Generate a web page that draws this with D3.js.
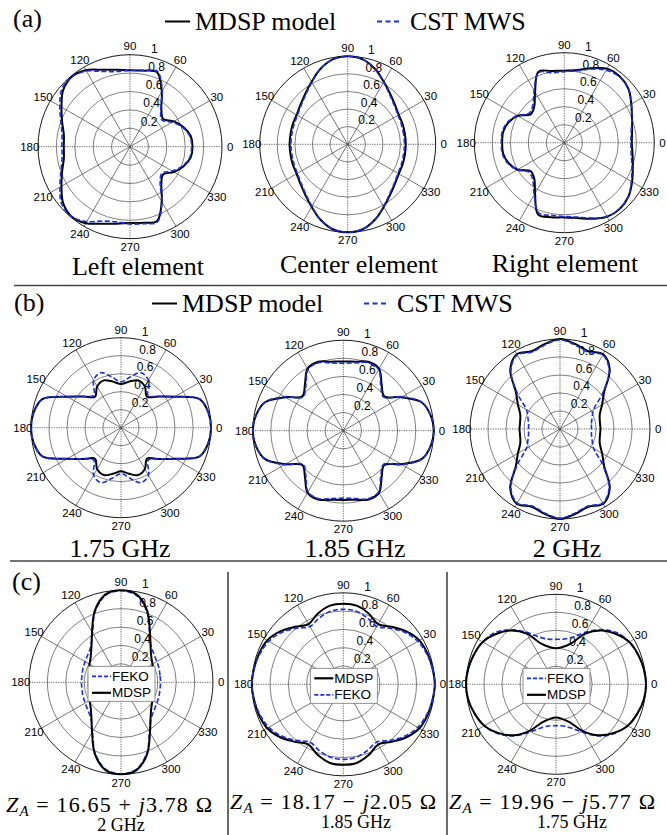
<!DOCTYPE html>
<html>
<head>
<meta charset="utf-8">
<script src="https://cdn.jsdelivr.net/npm/d3@7"></script>
<style>
  body { margin: 0; background: #fff; }
  svg { display: block; }
</style>
</head>
<body>
<svg id="fig" width="667" height="835"></svg>
<script>
const angleDeg = [0, 10, 20, 30, 40, 50, 60, 70, 80, 90, 100, 110, 120, 130, 140, 150, 160, 170,
                  180, 190, 200, 210, 220, 230, 240, 250, 260, 270, 280, 290, 300, 310, 320, 330, 340, 350];

// Grid
const gridRings = [0.2, 0.4, 0.6, 0.8, 1];
const ringLabels = ["0.2", "0.4", "0.6", "0.8", "1"];
const spokeAngles = [0, 30, 60, 90, 120, 150, 180, 210, 240, 270, 300, 330];

// (a) element patterns: MDSP model / CST MWS
const leftMdsp   = [0.68, 0.67, 0.62, 0.55, 0.47, 0.53, 0.69, 0.86, 0.84, 0.83, 0.85, 0.89, 0.96, 0.99, 0.95, 0.86, 0.785, 0.73,
                    0.72, 0.73, 0.785, 0.86, 0.95, 0.99, 0.96, 0.89, 0.85, 0.83, 0.84, 0.86, 0.69, 0.53, 0.47, 0.55, 0.62, 0.67];
const leftCst    = [0.67, 0.66, 0.61, 0.53, 0.45, 0.52, 0.70, 0.87, 0.84, 0.83, 0.83, 0.87, 0.95, 0.99, 0.97, 0.88, 0.80, 0.75,
                    0.74, 0.75, 0.80, 0.88, 0.97, 0.99, 0.94, 0.86, 0.83, 0.84, 0.85, 0.87, 0.69, 0.51, 0.45, 0.53, 0.61, 0.66];
const centerMdsp = [0.66, 0.66, 0.665, 0.67, 0.70, 0.75, 0.82, 0.91, 0.98, 1.0, 0.98, 0.91, 0.82, 0.75, 0.70, 0.67, 0.665, 0.66,
                    0.66, 0.66, 0.665, 0.67, 0.70, 0.75, 0.82, 0.91, 0.98, 1.0, 0.98, 0.91, 0.82, 0.75, 0.70, 0.67, 0.665, 0.66];
const centerCst  = [0.645, 0.645, 0.65, 0.66, 0.69, 0.74, 0.815, 0.91, 0.98, 1.0, 0.98, 0.91, 0.815, 0.74, 0.69, 0.66, 0.65, 0.645,
                    0.645, 0.645, 0.65, 0.66, 0.69, 0.74, 0.815, 0.91, 0.98, 1.0, 0.98, 0.91, 0.815, 0.74, 0.69, 0.66, 0.65, 0.645];
const rightMdsp  = [0.75, 0.765, 0.80, 0.86, 0.93, 0.96, 0.95, 0.88, 0.82, 0.80, 0.81, 0.84, 0.65, 0.52, 0.49, 0.60, 0.66, 0.69,
                    0.69, 0.69, 0.66, 0.60, 0.49, 0.52, 0.65, 0.85, 0.84, 0.83, 0.85, 0.90, 0.95, 0.96, 0.93, 0.87, 0.81, 0.77];
const rightCst   = [0.74, 0.755, 0.80, 0.86, 0.93, 0.955, 0.93, 0.87, 0.81, 0.79, 0.79, 0.83, 0.67, 0.545, 0.51, 0.60, 0.67, 0.70,
                    0.70, 0.70, 0.67, 0.60, 0.51, 0.545, 0.67, 0.83, 0.82, 0.82, 0.84, 0.89, 0.95, 0.955, 0.93, 0.86, 0.80, 0.755];

// (b) array patterns at three frequencies: MDSP model / CST MWS
const f175Mdsp = [1.0, 0.985, 0.93, 0.69, 0.54, 0.45, 0.53, 0.56, 0.52, 0.485, 0.52, 0.56, 0.53, 0.45, 0.54, 0.69, 0.93, 0.985,
                  1.0, 0.985, 0.93, 0.69, 0.54, 0.45, 0.53, 0.56, 0.52, 0.485, 0.52, 0.56, 0.53, 0.45, 0.54, 0.69, 0.93, 0.985];
const f175Cst  = [1.0, 0.985, 0.93, 0.69, 0.54, 0.47, 0.61, 0.65, 0.57, 0.51, 0.57, 0.65, 0.61, 0.47, 0.54, 0.69, 0.93, 0.985,
                  1.0, 0.985, 0.93, 0.69, 0.54, 0.47, 0.61, 0.65, 0.57, 0.51, 0.57, 0.65, 0.61, 0.47, 0.54, 0.69, 0.93, 0.985];
const f185Mdsp = [1.0, 0.98, 0.92, 0.74, 0.59, 0.66, 0.79, 0.81, 0.775, 0.765, 0.775, 0.81, 0.79, 0.66, 0.59, 0.74, 0.92, 0.98,
                  1.0, 0.98, 0.92, 0.74, 0.59, 0.66, 0.79, 0.81, 0.775, 0.765, 0.775, 0.81, 0.79, 0.66, 0.59, 0.74, 0.92, 0.98];
const f185Cst  = [1.0, 0.98, 0.92, 0.75, 0.58, 0.645, 0.78, 0.80, 0.76, 0.745, 0.76, 0.80, 0.78, 0.645, 0.58, 0.75, 0.92, 0.98,
                  1.0, 0.98, 0.92, 0.75, 0.58, 0.645, 0.78, 0.80, 0.76, 0.745, 0.76, 0.80, 0.78, 0.645, 0.58, 0.75, 0.92, 0.98];
const f200Mdsp = [0.45, 0.45, 0.47, 0.54, 0.64, 0.86, 0.96, 0.92, 0.96, 1.0, 0.96, 0.92, 0.96, 0.86, 0.64, 0.54, 0.47, 0.45,
                  0.45, 0.45, 0.47, 0.54, 0.64, 0.86, 0.96, 0.92, 0.96, 1.0, 0.96, 0.92, 0.96, 0.86, 0.64, 0.54, 0.47, 0.45];
const f200Cst  = [0.35, 0.355, 0.38, 0.43, 0.62, 0.85, 0.95, 0.91, 0.95, 0.99, 0.95, 0.91, 0.95, 0.85, 0.62, 0.43, 0.38, 0.355,
                  0.35, 0.355, 0.38, 0.43, 0.62, 0.85, 0.95, 0.91, 0.95, 0.99, 0.95, 0.91, 0.95, 0.85, 0.62, 0.43, 0.38, 0.355];

// (c) loaded patterns: MDSP / FEKO
const c200Mdsp = [0.35, 0.355, 0.37, 0.395, 0.43, 0.50, 0.63, 0.83, 0.97, 1.0, 0.97, 0.83, 0.63, 0.50, 0.43, 0.395, 0.37, 0.355,
                  0.35, 0.355, 0.37, 0.395, 0.43, 0.50, 0.63, 0.83, 0.97, 1.0, 0.97, 0.83, 0.63, 0.50, 0.43, 0.395, 0.37, 0.355];
const c200Feko = [0.43, 0.43, 0.44, 0.45, 0.47, 0.51, 0.62, 0.82, 0.96, 0.995, 0.96, 0.82, 0.62, 0.51, 0.47, 0.45, 0.44, 0.43,
                  0.43, 0.43, 0.44, 0.45, 0.47, 0.51, 0.62, 0.82, 0.96, 0.995, 0.96, 0.82, 0.62, 0.51, 0.47, 0.45, 0.44, 0.43];
const c185Mdsp = [1.0, 0.99, 0.98, 0.96, 0.90, 0.82, 0.76, 0.82, 0.87, 0.88, 0.87, 0.82, 0.76, 0.82, 0.90, 0.96, 0.98, 0.99,
                  1.0, 0.99, 0.98, 0.96, 0.90, 0.82, 0.76, 0.82, 0.87, 0.88, 0.87, 0.82, 0.76, 0.82, 0.90, 0.96, 0.98, 0.99];
const c185Feko = [1.0, 0.99, 0.97, 0.94, 0.88, 0.80, 0.73, 0.77, 0.81, 0.82, 0.81, 0.77, 0.73, 0.80, 0.88, 0.94, 0.97, 0.99,
                  1.0, 0.99, 0.97, 0.94, 0.88, 0.80, 0.73, 0.77, 0.81, 0.82, 0.81, 0.77, 0.73, 0.80, 0.88, 0.94, 0.97, 0.99];
const c175Mdsp = [1.0, 0.99, 0.97, 0.94, 0.87, 0.78, 0.65, 0.48, 0.42, 0.40, 0.42, 0.48, 0.65, 0.78, 0.87, 0.94, 0.97, 0.99,
                  1.0, 0.99, 0.96, 0.92, 0.84, 0.74, 0.60, 0.45, 0.39, 0.37, 0.39, 0.45, 0.60, 0.74, 0.84, 0.92, 0.96, 0.99];
const c175Feko = [1.0, 0.99, 0.97, 0.94, 0.89, 0.79, 0.67, 0.56, 0.51, 0.50, 0.51, 0.56, 0.67, 0.79, 0.89, 0.94, 0.97, 0.99,
                  1.0, 0.99, 0.96, 0.92, 0.85, 0.75, 0.62, 0.52, 0.47, 0.46, 0.47, 0.52, 0.62, 0.75, 0.85, 0.92, 0.96, 0.99];

// Captions
const rowTitlesA = ["Left element", "Center element", "Right element"];
const rowTitlesB = ["1.75 GHz", "1.85 GHz", "2 GHz"];
const impedanceRe = ["16.65", "18.17", "19.96"];
const impedanceSign = ["+", "\u2212", "\u2212"];
const impedanceIm = ["3.78", "2.05", "5.77"];
const rowTitlesC = ["2 GHz", "1.85 GHz", "1.75 GHz"];

// Styles
const BLACK = "#000";
const BLUE = "#1530e8";
const black = v => ({ values: v, color: BLACK, dash: null, width: 2 });
const blue = v => ({ values: v, color: BLUE, dash: "5,2.5", width: 1.6 });

// Layout of the nine polar plots (centre, radius, drawing order, legend)
const panels = [
    { cx: 130, cy: 146.7, R: 92, series: [black(leftMdsp), blue(leftCst)] },
    { cx: 347.7, cy: 144.3, R: 88, series: [black(centerMdsp), blue(centerCst)] },
    { cx: 564.3, cy: 142.7, R: 90, series: [black(rightMdsp), blue(rightCst)] },
    { cx: 121, cy: 427.7, R: 90, series: [black(f175Mdsp), blue(f175Cst)] },
    { cx: 343.3, cy: 430.7, R: 90.5, series: [black(f185Mdsp), blue(f185Cst)] },
    { cx: 560, cy: 429, R: 90, series: [black(f200Mdsp), blue(f200Cst)] },
    { cx: 121, cy: 682.3, R: 92, series: [blue(c200Feko), black(c200Mdsp)], legend: ["FEKO", "MDSP"] },
    { cx: 343.3, cy: 684.3, R: 91.5, series: [black(c185Mdsp), blue(c185Feko)], legend: ["MDSP", "FEKO"] },
    { cx: 556, cy: 684.3, R: 90, series: [blue(c175Feko), black(c175Mdsp)], legend: ["FEKO", "MDSP"] }
];

const toRad = d => d * Math.PI / 180;
let svg = d3.select("#fig");

// Draws one MATLAB-style polar plot
function DrawPolar(p) {
    let g = svg.append("g").attr("transform", `translate(${p.cx},${p.cy})`);
    let rScale = d3.scaleLinear().domain([0, 1]).range([0, p.R]);

    // inner rings
    g.selectAll(".ring").data(gridRings.slice(0, -1)).enter().append("circle")
        .attr("r", d => rScale(d))
        .attr("fill", "none")
        .attr("stroke", "#555")
        .attr("stroke-width", 0.75);

    // spokes (diameters), the axes are dotted
    g.selectAll(".spoke").data(spokeAngles.filter(a => a < 180)).enter().append("line")
        .attr("x1", a => rScale(1) * Math.cos(toRad(a)))
        .attr("y1", a => -rScale(1) * Math.sin(toRad(a)))
        .attr("x2", a => -rScale(1) * Math.cos(toRad(a)))
        .attr("y2", a => rScale(1) * Math.sin(toRad(a)))
        .attr("stroke", a => a % 90 === 0 ? "#333" : "#4a4a4a")
        .attr("stroke-width", 0.75)
        .attr("stroke-dasharray", a => a % 90 === 0 ? "1.2,1.2" : null);

    // outer circle
    g.append("circle").attr("r", rScale(1)).attr("fill", "none")
        .attr("stroke", "#000").attr("stroke-width", 0.9);

    // radial tick labels along 82 deg
    g.selectAll(".rlab").data(gridRings).enter().append("text")
        .attr("x", d => rScale(d + 0.01) * Math.cos(toRad(82)) + 8)
        .attr("y", d => -rScale(d + 0.01) * Math.sin(toRad(82)) - 2)
        .attr("font-family", "Liberation Sans, Arial, sans-serif")
        .attr("font-size", 12)
        .text((d, i) => ringLabels[i]);

    // angle labels
    g.selectAll(".alab").data(spokeAngles).enter().append("text")
        .attr("x", a => rScale(1.09) * Math.cos(toRad(a)))
        .attr("y", a => -rScale(1.09) * Math.sin(toRad(a)))
        .attr("text-anchor", "middle")
        .attr("dominant-baseline", "central")
        .attr("font-family", "Liberation Sans, Arial, sans-serif")
        .attr("font-size", 11.5)
        .text(a => a);

    // pattern curves
    let line = d3.lineRadial()
        .angle((d, i) => toRad(90 - angleDeg[i]))
        .radius(d => rScale(d))
        .curve(d3.curveCatmullRomClosed.alpha(0.5));

    p.series.forEach(s => {
        g.append("path")
            .datum(s.values)
            .attr("d", line)
            .attr("fill", "none")
            .attr("stroke", s.color)
            .attr("stroke-width", s.width)
            .attr("stroke-dasharray", s.dash)
            .attr("stroke-linejoin", "round");
    });

    // small legend box in the middle (row c)
    if (p.legend) {
        let lg = g.append("g");
        lg.append("rect")
            .attr("x", -33).attr("y", -16).attr("width", 67).attr("height", 35)
            .attr("fill", "#fff").attr("stroke", "#777").attr("stroke-width", 0.8);
        p.legend.forEach((name, i) => {
            let y = -6 + i * 16.5;
            let isFeko = name === "FEKO";
            lg.append("line")
                .attr("x1", -29).attr("x2", -10).attr("y1", y).attr("y2", y)
                .attr("stroke", isFeko ? BLUE : BLACK)
                .attr("stroke-width", isFeko ? 1.8 : 2.2)
                .attr("stroke-dasharray", isFeko ? "4,2" : null);
            lg.append("text")
                .attr("x", -9).attr("y", y)
                .attr("dominant-baseline", "central")
                .attr("font-family", "Liberation Sans, Arial, sans-serif")
                .attr("font-size", 13.5)
                .text(name);
        });
    }
}

// Big serif text helper
function SerifText(x, y, str, size, anchor) {
    return svg.append("text")
        .attr("x", x).attr("y", y)
        .attr("text-anchor", anchor || "middle")
        .attr("font-family", "Liberation Serif, Times New Roman, serif")
        .attr("font-size", size)
        .text(str);
}

// Legend line of rows a and b
function DrawTopLegend(x0, y) {
    svg.append("line").attr("x1", x0).attr("x2", x0 + 25).attr("y1", y - 8.5).attr("y2", y - 8.5)
        .attr("stroke", BLACK).attr("stroke-width", 2);
    SerifText(x0 + 30, y, "MDSP model", 26, "start");
    svg.append("line").attr("x1", x0 + 212).attr("x2", x0 + 237).attr("y1", y - 8.5).attr("y2", y - 8.5)
        .attr("stroke", BLUE).attr("stroke-width", 2).attr("stroke-dasharray", "5,3.5");
    SerifText(x0 + 245, y, "CST MWS", 26, "start");
}

// -----------
// Program start

// separators
svg.append("line").attr("x1", 14).attr("x2", 667).attr("y1", 285.5).attr("y2", 285.5)
    .attr("stroke", "#444").attr("stroke-width", 1.6);
svg.append("line").attr("x1", 10).attr("x2", 667).attr("y1", 561).attr("y2", 561)
    .attr("stroke", "#444").attr("stroke-width", 1.6);
[228, 447].forEach(x => {
    svg.append("line").attr("x1", x).attr("x2", x).attr("y1", 572).attr("y2", 835)
        .attr("stroke", "#444").attr("stroke-width", 1.6);
});

// panel tags and legends
SerifText(13, 27, "(a)", 26, "start");
SerifText(14, 311, "(b)", 26, "start");
SerifText(12, 590, "(c)", 26, "start");
DrawTopLegend(165, 30);
DrawTopLegend(152, 312);

panels.forEach(p => DrawPolar(p));

// captions row a and b
const capAx = [138, 359, 565];
const capAy = [275, 273, 272];
rowTitlesA.forEach((t, i) => SerifText(capAx[i], capAy[i], t, 26));
const capBx = [120, 355, 567];
rowTitlesB.forEach((t, i) => SerifText(capBx[i], 557, t, 26));

// captions row c: impedance and frequency
const capCx = [109, 333, 552];
const capCy = [812, 809, 809];
const freqCx = [121, 356, 572];
const freqCy = [831, 828, 828];
impedanceRe.forEach((re, i) => {
    let t = svg.append("text")
        .attr("x", capCx[i]).attr("y", capCy[i])
        .attr("text-anchor", "middle")
        .attr("font-family", "Liberation Serif, Times New Roman, serif")
        .attr("font-size", 22)
        .attr("textLength", 206)
        .attr("lengthAdjust", "spacing");
    t.append("tspan").attr("font-style", "italic").text("Z");
    t.append("tspan").attr("font-style", "italic").attr("font-size", 15).attr("dy", 4).text("A");
    t.append("tspan").attr("dy", -4).text(" = " + re + " " + impedanceSign[i] + " ");
    t.append("tspan").attr("font-style", "italic").text("j");
    t.append("tspan").text(impedanceIm[i] + " \u03A9");
    SerifText(freqCx[i], freqCy[i], rowTitlesC[i], 18);
});
</script>
</body>
</html>
